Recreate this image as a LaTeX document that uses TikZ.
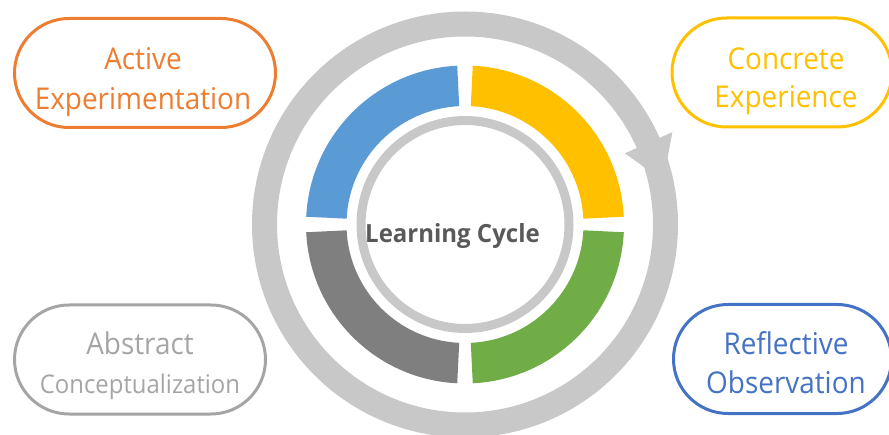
\documentclass[tikz,border=0pt]{standalone}
\usepackage{fontspec}
\setmainfont{Open Sans}
\newfontfamily\labelfont[FakeStretch=0.93]{Open Sans}
\newfontfamily\titlefont[FakeStretch=0.96]{Open Sans}

\definecolor{ringgray}{HTML}{C8C8C8}
\definecolor{segblue}{HTML}{5B9BD5}
\definecolor{segyellow}{HTML}{FFC000}
\definecolor{seggreen}{HTML}{70AD47}
\definecolor{seggray}{HTML}{7F7F7F}
\definecolor{boxorange}{HTML}{ED7D31}
\definecolor{boxyellow}{HTML}{FFC000}
\definecolor{boxblue}{HTML}{4472C4}
\definecolor{boxgray}{HTML}{A5A5A5}
\definecolor{centertext}{HTML}{595959}

% annular sector between radii 118.5 and 159 around (c)
\newcommand{\ringsector}[3]{%
  \fill[#1, shift={(c)}] (#2:159) arc[start angle=#2, end angle=#3, radius=159]
    -- (#3:118.5) arc[start angle=#3, end angle=#2, radius=118.5] -- cycle;}

\begin{document}
\begin{tikzpicture}[x=1pt, y=1pt,
  pill/.style={draw=#1, line width=3, rounded corners=54.5, minimum height=109,
    inner sep=0, outer sep=0},
  lab/.style={anchor=base, inner sep=0, font=\labelfont\fontsize{30}{34}\selectfont},
  smalllab/.style={anchor=base, inner sep=0, font=\labelfont\fontsize{25.7}{30}\selectfont}]
\useasboundingbox (0,0) rectangle (889,434);
\clip (0,0) rectangle (889,434);
\coordinate (c) at (465,209.5);

% outer cycle arrow
\draw[ringgray, line width=25] (c) circle (200.5);
\fill[ringgray, shift={(c)}] (24:175) -- (24:227) -- (12.4:203) -- cycle;

% four coloured sectors
\ringsector{segyellow}{2.8}{87.2}
\ringsector{segblue}{92.8}{177.2}
\ringsector{seggray}{182.8}{267.2}
\ringsector{seggreen}{272.8}{357.2}

% inner thin ring and title
\draw[ringgray, line width=9] (c) circle (104);
\node[anchor=base, inner sep=0, text=centertext,
  font=\titlefont\fontsize{25}{28}\selectfont\bfseries] (lc) at (452.5,191) {Learning Cycle};

% stage boxes
\node[pill=boxorange, minimum width=261] (ae) at (145,361) {};
\node[lab, text=boxorange] (aeA) at (143,364) {Active};
\node[lab, text=boxorange] (aeB) at (143,324.7) {Experimentation};

\node[pill=boxyellow, minimum width=220] (ce) at (782,361.5) {};
\node[lab, text=boxyellow] (ceA) at (786,364.7) {Concrete};
\node[lab, text=boxyellow] (ceB) at (786,326.3) {Experience};

\node[pill=boxblue, minimum width=218] (ro) at (782.5,75) {};
\node[lab, text=boxblue] (roA) at (786,79) {Reflective};
\node[lab, text=boxblue] (roB) at (786,40.7) {Observation};

\node[pill=boxgray, minimum width=251] (ac) at (140,74.5) {};
\node[lab, text=boxgray] (acA) at (140,79) {Abstract};
\node[smalllab, text=boxgray] (acB) at (140,40.7) {Conceptualization};
\end{tikzpicture}
\end{document}
